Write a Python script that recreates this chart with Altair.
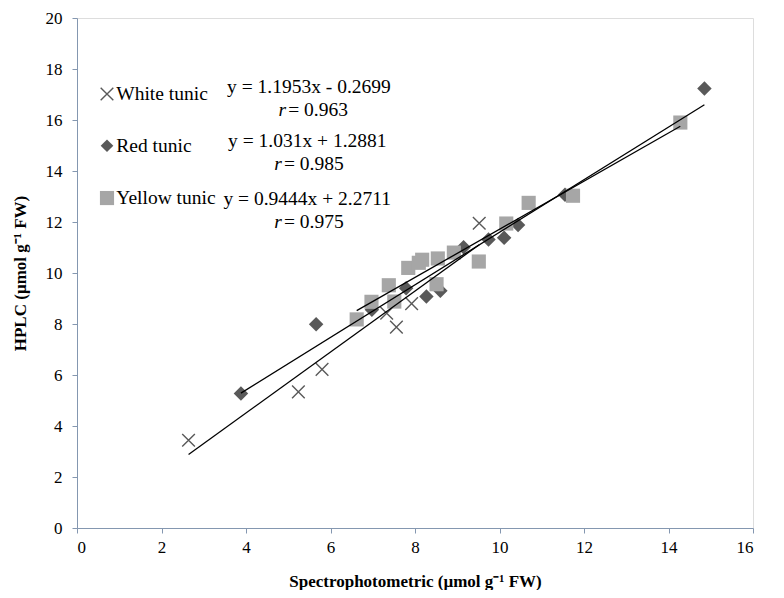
import altair as alt
import pandas as pd

# ---- data ----
white_x = [2.64, 5.24, 5.80, 7.33, 7.56, 7.92, 9.52]
white_y = [3.44, 5.34, 6.22, 8.42, 7.88, 8.80, 11.95]

red_x = [3.88, 5.66, 6.98, 7.79, 8.27, 8.60, 9.15, 9.74, 10.11, 10.44, 11.55, 14.85]
red_y = [5.27, 7.99, 8.56, 9.40, 9.08, 9.30, 11.01, 11.31, 11.38, 11.88, 13.07, 17.24]

yellow_x = [6.62, 6.97, 7.38, 7.51, 7.84, 8.09, 8.17, 8.54, 8.51, 8.92, 9.51, 10.16, 10.69, 11.74, 14.28]
yellow_y = [8.18, 8.87, 9.52, 8.88, 10.20, 10.40, 10.52, 10.57, 9.56, 10.80, 10.45, 11.94, 12.75, 13.03, 15.90]

series_names = ["White tunic", "Red tunic", "Yellow tunic"]
slopes = [1.1953, 1.031, 0.9444]
intercepts = [-0.2699, 1.2881, 2.2711]
equations = ["y = 1.1953x - 0.2699", "y = 1.031x + 1.2881", "y = 0.9444x + 2.2711"]
r_values = ["= 0.963", "= 0.985", "= 0.975"]

x_ticks = [0, 2, 4, 6, 8, 10, 12, 14, 16]
y_ticks = [0, 2, 4, 6, 8, 10, 12, 14, 16, 18, 20]

# annotation anchors (data units)
legend_x = [0.71, 0.71, 0.71]
legend_y = [17.02, 14.99, 12.94]
label_x = [0.93, 0.93, 0.93]
eq_x = [5.49, 5.45, 5.45]
eq_y = [17.28, 15.16, 12.92]
r_x = [4.95, 4.85, 4.85]
r_y = [16.38, 14.26, 12.00]

FONT = "Liberation Serif"
AXIS_COLOR = "#8497B0"
TXT = 19.5

white_df = pd.DataFrame({"x": white_x, "y": white_y})
red_df = pd.DataFrame({"x": red_x, "y": red_y})
yellow_df = pd.DataFrame({"x": yellow_x, "y": yellow_y})

# trendlines over each series' x range using the published equations
line_rows = []
for name, xs, a, b in zip(series_names, [white_x, red_x, yellow_x], slopes, intercepts):
    for xv in (min(xs), max(xs)):
        line_rows.append({"series": name, "x": xv, "y": a * xv + b})
lines_df = pd.DataFrame(line_rows)

ann_df = pd.DataFrame({
    "series": series_names,
    "lx": legend_x, "ly": legend_y, "tx": label_x,
    "ex": eq_x, "ey": eq_y, "eq": equations,
    "rx": r_x, "ry": r_y, "rv": r_values,
})

xscale = alt.Scale(domain=[0, 16], nice=False, zero=True)
yscale = alt.Scale(domain=[0, 20], nice=False, zero=True)

xaxis = alt.Axis(values=x_ticks, title="Spectrophotometric (µmol g⁻¹ FW)", grid=False,
                 labelFont=FONT, labelFontSize=17, labelColor="black", labelPadding=6,
                 titleFont=FONT, titleFontSize=17, titleFontWeight="bold", titleColor="black",
                 titlePadding=18, domainColor=AXIS_COLOR, tickColor=AXIS_COLOR, tickSize=5)
yaxis = alt.Axis(values=y_ticks, title="HPLC (µmol g⁻¹ FW)", grid=False,
                 labelFont=FONT, labelFontSize=17, labelColor="black", labelPadding=10,
                 titleFont=FONT, titleFontSize=17, titleFontWeight="bold", titleColor="black",
                 titlePadding=16, domainColor=AXIS_COLOR, tickColor=AXIS_COLOR, tickSize=5)

X_PATH = "M-1,-1L1,1M-1,1L1,-1"

base_x = alt.X("x:Q", scale=xscale, axis=xaxis)
base_y = alt.Y("y:Q", scale=yscale, axis=yaxis)

white = alt.Chart(white_df).mark_point(shape=X_PATH, filled=False, stroke="#595959",
                                       strokeWidth=1.4, size=160, opacity=1).encode(x=base_x, y=base_y)
red = alt.Chart(red_df).mark_point(shape="diamond", filled=True, color="#595959",
                                   size=210, opacity=1).encode(x="x:Q", y="y:Q")
yellow = alt.Chart(yellow_df).mark_point(shape="square", filled=True, color="#A6A6A6",
                                         size=200, opacity=1).encode(x="x:Q", y="y:Q")
trend = alt.Chart(lines_df).mark_line(color="black", strokeWidth=1.3).encode(
    x="x:Q", y="y:Q", detail="series:N")

ann = alt.Chart(ann_df)
leg_white = ann.transform_filter(alt.datum.series == "White tunic").mark_point(
    shape=X_PATH, filled=False, stroke="#595959", strokeWidth=1.4, size=160, opacity=1
).encode(x="lx:Q", y="ly:Q")
leg_red = ann.transform_filter(alt.datum.series == "Red tunic").mark_point(
    shape="diamond", filled=True, color="#595959", size=160, opacity=1
).encode(x="lx:Q", y="ly:Q")
leg_yellow = ann.transform_filter(alt.datum.series == "Yellow tunic").mark_point(
    shape="square", filled=True, color="#A6A6A6", size=200, opacity=1
).encode(x="lx:Q", y="ly:Q")
leg_text = ann.mark_text(align="left", baseline="middle", font=FONT, fontSize=TXT, color="black").encode(
    x="tx:Q", y="ly:Q", text="series:N")
eq_text = ann.mark_text(align="center", baseline="middle", font=FONT, fontSize=TXT, color="black").encode(
    x="ex:Q", y="ey:Q", text="eq:N")
r_italic = ann.mark_text(align="right", baseline="middle", font=FONT, fontSize=TXT, fontStyle="italic",
                         color="black").encode(x="rx:Q", y="ry:Q", text=alt.value("r"))
r_text = ann.mark_text(align="left", baseline="middle", font=FONT, fontSize=TXT, color="black", dx=2).encode(
    x="rx:Q", y="ry:Q", text="rv:N")

chart = alt.layer(white, red, yellow, trend, leg_white, leg_red, leg_yellow,
                  leg_text, eq_text, r_italic, r_text).properties(
    width=676, height=510,
    autosize=alt.AutoSizeParams(type="none"),
    padding={"left": 69, "top": 10, "right": 23, "bottom": 62},
).configure_view(stroke="#95B3D7", strokeWidth=1).configure(background="white")

chart.save("out.html", embed_options={"renderer": "svg", "actions": False})
